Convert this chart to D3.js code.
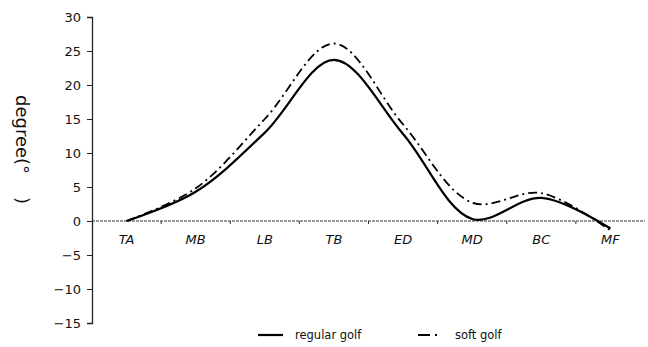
<!DOCTYPE html>
<html>
<head>
<meta charset="utf-8">
<script src="https://cdn.jsdelivr.net/npm/d3@7"></script>
<style>
  body { margin: 0; background: #fff; }
  text { font-family: "DejaVu Sans", sans-serif; fill: #111; }
</style>
</head>
<body>
<div id="chart"></div>
<script>
// chart data
const categories = ["TA", "MB", "LB", "TB", "ED", "MD", "BC", "MF"];
const regularGolf = [0, 4.3, 13.0, 23.7, 12.8, 0.3, 3.4, -1.1];
const softGolf = [0, 4.8, 15.0, 26.1, 14.2, 2.7, 4.1, -1.4];
const yTicks = [30, 25, 20, 15, 10, 5, 0, -5, -10, -15];
const seriesNames = ["regular golf", "soft golf"];

const width = 648, height = 347;
const plotLeft = 92, plotRight = 645, plotTop = 17, plotBottom = 323;

const svg = d3.select("#chart").append("svg")
  .attr("width", width)
  .attr("height", height);

const x = d3.scaleBand()
  .domain(categories)
  .range([plotLeft, plotRight]);

const y = d3.scaleLinear()
  .domain([-15, 30])
  .range([plotBottom, plotTop]);

// y axis
const yAxis = svg.append("g")
  .attr("transform", "translate(" + plotLeft + ",0)")
  .call(d3.axisLeft(y).tickValues(yTicks).tickSize(5).tickPadding(6)
    .tickFormat(d => d < 0 ? "\u2212" + Math.abs(d) : d));
yAxis.select(".domain").attr("stroke", "#222").attr("stroke-width", 1.3);
yAxis.selectAll(".tick line").attr("stroke", "#222");
yAxis.selectAll("text").style("font-size", "13px").attr("fill", "#111");

// x axis through zero, ticks between categories
const xAxis = svg.append("g")
  .attr("transform", "translate(0," + y(0) + ")");
xAxis.append("line")
  .attr("x1", plotLeft).attr("x2", plotRight)
  .attr("stroke", "#333").attr("stroke-width", 1.2)
  .attr("stroke-dasharray", "3,1");
xAxis.selectAll(".btick")
  .data(categories.slice(1))
  .enter().append("line")
  .attr("x1", d => x(d)).attr("x2", d => x(d))
  .attr("y1", 0).attr("y2", 3)
  .attr("stroke", "#333");
xAxis.selectAll(".lab")
  .data(categories)
  .enter().append("text")
  .attr("x", d => x(d) + x.bandwidth() / 2)
  .attr("y", 23)
  .attr("text-anchor", "middle")
  .style("font-size", "13px")
  .style("font-style", "italic")
  .text(d => d);

// series
const line = d3.line()
  .x((d, i) => x(categories[i]) + x.bandwidth() / 2)
  .y(d => y(d))
  .curve(d3.curveCatmullRom.alpha(0.5));

svg.append("path")
  .datum(regularGolf)
  .attr("d", line)
  .attr("fill", "none")
  .attr("stroke", "#000")
  .attr("stroke-width", 2.2);

svg.append("path")
  .datum(softGolf)
  .attr("d", line)
  .attr("fill", "none")
  .attr("stroke", "#000")
  .attr("stroke-width", 1.8)
  .attr("stroke-dasharray", "9,4,2,4");

// y title
svg.append("text")
  .attr("transform", "translate(16,95) rotate(90)")
  .style("font-size", "18px")
  .style("white-space", "pre")
  .text("degree(\u00b0    )");

// legend
const legend = svg.append("g");
legend.append("line")
  .attr("x1", 258).attr("x2", 283).attr("y1", 335).attr("y2", 335)
  .attr("stroke", "#000").attr("stroke-width", 2.2);
legend.append("text")
  .attr("x", 295).attr("y", 339)
  .style("font-size", "11.5px")
  .text(seriesNames[0]);
legend.append("line")
  .attr("x1", 418).attr("x2", 446).attr("y1", 335).attr("y2", 335)
  .attr("stroke", "#000").attr("stroke-width", 1.8)
  .attr("stroke-dasharray", "12,5,2,9");
legend.append("text")
  .attr("x", 455).attr("y", 339)
  .style("font-size", "11.5px")
  .text(seriesNames[1]);
</script>
</body>
</html>
